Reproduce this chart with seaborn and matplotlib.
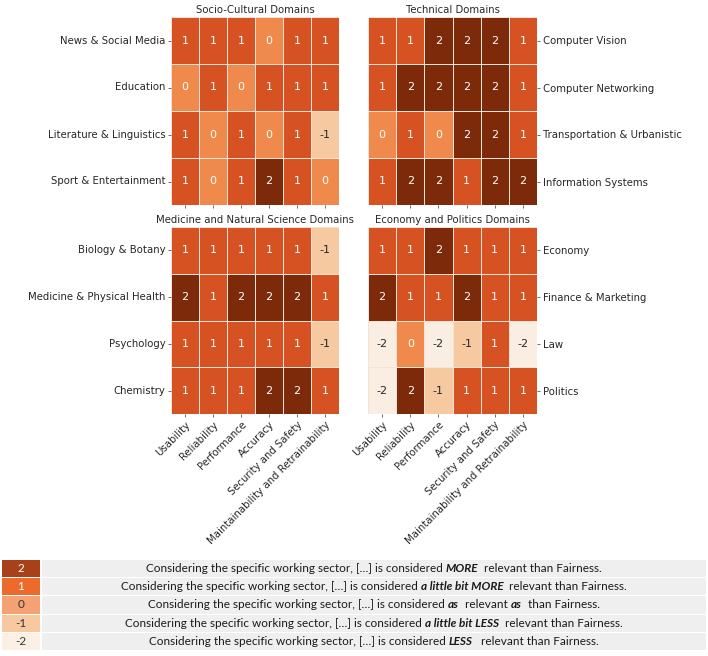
import numpy as np
import pandas as pd
import matplotlib
matplotlib.use("Agg")
import matplotlib.pyplot as plt
from matplotlib.colors import LinearSegmentedColormap
import seaborn as sns

# ---------------- data ----------------
attributes = ["Usability", "Reliability", "Performance", "Accuracy",
              "Security and Safety", "Maintainability and Retrainability"]

socio_rows = ["News & Social Media", "Education", "Literature & Linguistics", "Sport & Entertainment"]
socio_vals = [[1, 1, 1, 0, 1, 1],
              [0, 1, 0, 1, 1, 1],
              [1, 0, 1, 0, 1, -1],
              [1, 0, 1, 2, 1, 0]]

tech_rows = ["Computer Vision", "Computer Networking", "Transportation & Urbanistic", "Information Systems"]
tech_vals = [[1, 1, 2, 2, 2, 1],
             [1, 2, 2, 2, 2, 1],
             [0, 1, 0, 2, 2, 1],
             [1, 2, 2, 1, 2, 2]]

med_rows = ["Biology & Botany", "Medicine & Physical Health", "Psychology", "Chemistry"]
med_vals = [[1, 1, 1, 1, 1, -1],
            [2, 1, 2, 2, 2, 1],
            [1, 1, 1, 1, 1, -1],
            [1, 1, 1, 2, 2, 1]]

econ_rows = ["Economy", "Finance & Marketing", "Law", "Politics"]
econ_vals = [[1, 1, 2, 1, 1, 1],
             [2, 1, 1, 2, 1, 1],
             [-2, 0, -2, -1, 1, -2],
             [-2, 2, -1, 1, 1, 1]]

titles = ["Socio-Cultural Domains", "Technical Domains",
          "Medicine and Natural Science Domains", "Economy and Politics Domains"]

legend_values = [2, 1, 0, -1, -2]
legend_colors = ["#a8411a", "#ee6a2c", "#f4a273", "#f8c9a1", "#fcefe3"]
legend_prefix = "Considering the specific working sector, [\u2026] is considered "
legend_parts = [
    [("MORE", True), ("  relevant than Fairness.", False)],
    [("a little bit MORE", True), ("  relevant than Fairness.", False)],
    [("as", True), ("  relevant ", False), ("as", True), ("  than Fairness.", False)],
    [("a little bit LESS", True), ("  relevant than Fairness.", False)],
    [("LESS", True), ("   relevant than Fairness.", False)],
]

# heatmap colour scale (value -2 .. 2)
heat_colors = ["#faeee2", "#f6c9a0", "#f08a4c", "#d85223", "#7c2a0a"]
heat_cmap = LinearSegmentedColormap.from_list("oranges_muted", heat_colors)

# ---------------- figure ----------------
W, H = 708, 656
fig = plt.figure(figsize=(W / 100, H / 100), dpi=100)
plt.rcParams['font.family'] = ['DejaVu Sans']

txt_color = "#262626"
lab_fs = 7.3

def px_axes(x0, y0, x1, y1):
    return fig.add_axes([x0 / W, 1 - y1 / H, (x1 - x0) / W, (y1 - y0) / H])

boxes = [(171, 17, 339, 205), (368, 17, 537, 205),
         (171, 227, 339, 414), (368, 227, 537, 414)]
datasets = [(socio_rows, socio_vals), (tech_rows, tech_vals),
            (med_rows, med_vals), (econ_rows, econ_vals)]

for i, (box, (rows, vals), title) in enumerate(zip(boxes, datasets, titles)):
    ax = px_axes(*box)
    df = pd.DataFrame(vals, index=rows, columns=attributes)
    sns.heatmap(df, ax=ax, cmap=heat_cmap, vmin=-2, vmax=2, annot=True, fmt="d",
                cbar=False, linewidths=0.6, linecolor="#f3e3d6",
                annot_kws={"fontsize": 8})
    ax.set_title(title, fontsize=lab_fs, color=txt_color, pad=3)
    ax.set_xlabel("")
    ax.set_ylabel("")
    ax.tick_params(axis="both", length=2.5, width=0.6, colors="#555555",
                   labelsize=lab_fs, labelcolor=txt_color, pad=1.5)
    ax.set_yticklabels(rows, rotation=0)
    if i % 2 == 1:
        ax.yaxis.tick_right()
        ax.tick_params(axis="y", length=2.5, width=0.6, labelsize=lab_fs, pad=1.5)
    if i < 2:
        ax.set_xticklabels([])
    else:
        ax.set_xticklabels(attributes, rotation=45, ha="right", rotation_mode="anchor")

# ---------------- legend table ----------------
lax = px_axes(0, 559, W, 651)
lax.set_xlim(0, W)
lax.set_ylim(len(legend_values) - 0.5, -0.5)
lax.axis("off")
ypos = np.arange(len(legend_values))
lax.barh(ypos, [38] * len(ypos), left=2, height=0.93, color=legend_colors)
lax.barh(ypos, [664] * len(ypos), left=42, height=0.93, color="#efefef")

leg_font = "Lato"
leg_fs = 8.5
for y, v, col in zip(ypos, legend_values, legend_colors):
    lax.text(21, y, str(v), ha="center", va="center", fontsize=leg_fs, family=leg_font,
             color="white" if v > 0 else "#333333")

fig.canvas.draw()
renderer = fig.canvas.get_renderer()
inv = lax.transData.inverted()
for y, parts in zip(ypos, legend_parts):
    pieces = [(legend_prefix, False)] + parts
    objs = []
    for s, bold in pieces:
        t = lax.text(0, y, s, ha="left", va="center", fontsize=leg_fs, family=leg_font,
                     color="#1a1a1a",
                     fontweight="bold" if bold else "normal",
                     fontstyle="italic" if bold else "normal")
        objs.append(t)
    widths = []
    for t in objs:
        bb = t.get_window_extent(renderer)
        p0 = inv.transform((bb.x0, bb.y0))
        p1 = inv.transform((bb.x1, bb.y0))
        widths.append(p1[0] - p0[0])
    total = sum(widths)
    x = 374 - total / 2
    for t, w in zip(objs, widths):
        t.set_x(x)
        x += w

fig.savefig("out.png", dpi=100)
